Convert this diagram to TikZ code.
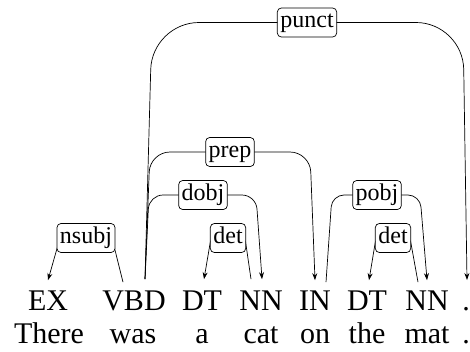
\documentclass[tikz,border=0pt]{standalone}
\usepackage{fontspec}
\setmainfont{Liberation Serif}
\usetikzlibrary{arrows.meta}
\begin{document}
\begin{tikzpicture}[x=1pt,y=-1pt,
  tagw/.style={anchor=base,inner sep=0pt,font=\fontsize{30}{30}\selectfont},
  lbl/.style={draw,fill=white,rounded corners=4pt,line width=0.7pt,
    inner xsep=3pt,inner ysep=4.5pt,text height=15pt,text depth=5pt,
    font=\fontsize{24}{24}\selectfont},
  dep/.style={line width=0.7pt,-{Stealth[length=7pt,width=5pt]}}]
\useasboundingbox (0,0) rectangle (470,351);

% part-of-speech row
\node[tagw] (t1) at (48,310) {EX};
\node[tagw] (t2) at (134,310) {VBD};
\node[tagw] (t3) at (202,310) {DT};
\node[tagw] (t4) at (261,310) {NN};
\node[tagw] (t5) at (315,310) {IN};
\node[tagw] (t6) at (367,310) {DT};
\node[tagw] (t7) at (427,310) {NN};
\node[tagw] (t8) at (466,310) {.};

% word row
\node[tagw] (w1) at (49,343) {There};
\node[tagw] (w2) at (133,343) {was};
\node[tagw] (w3) at (202,343) {a};
\node[tagw] (w4) at (261,343) {cat};
\node[tagw] (w5) at (315,343) {on};
\node[tagw] (w6) at (367,343) {the};
\node[tagw] (w7) at (427,343) {mat};
\node[tagw] (w8) at (466,343) {.};

% edge end points above the tags
\coordinate (vbdL) at ([xshift=-11pt,yshift=8pt]t2.north);
\coordinate (vbdR) at ([xshift=11pt,yshift=11pt]t2.north);
\coordinate (exT) at ([yshift=10pt]t1.north);
\coordinate (dt1T) at ([xshift=2pt,yshift=11pt]t3.north);
\coordinate (nn1S) at ([xshift=-10pt,yshift=11pt]t4.north);
\coordinate (nn1T) at ([xshift=1pt,yshift=11pt]t4.north);
\coordinate (inT) at ([yshift=10pt]t5.north);
\coordinate (inS) at ([xshift=11pt,yshift=8pt]t5.north);
\coordinate (dt2T) at ([xshift=2pt,yshift=10pt]t6.north);
\coordinate (nn2S) at ([xshift=-9pt,yshift=8pt]t7.north);
\coordinate (nn2T) at ([yshift=10pt]t7.north);
\coordinate (ptT) at ([xshift=1pt,yshift=30pt]t8.base);

% arcs
\draw[dep,rounded corners=47pt] (vbdR) -- (152,22.5) -- (463,22.5) -- (ptT);
\draw[dep,rounded corners=20pt] (vbdR) -- (150,152) -- (310,152) -- (inT);
\draw[dep,rounded corners=14pt] (vbdR) -- (149,195) -- (256,195) -- (nn1T);
\draw[dep,rounded corners=12pt] (inS) -- (332,195) -- (420,195) -- (nn2T);
\draw[dep,rounded corners=4pt] (vbdL) -- (112,238) -- (60,238) -- (exT);
\draw[dep,rounded corners=4pt] (nn1S) -- (245,238) -- (211,238) -- (dt1T);
\draw[dep,rounded corners=4pt] (nn2S) -- (410,238) -- (376,238) -- (dt2T);

% arc labels
\node[lbl] (lpunct) at (307,22.5) {punct};
\node[lbl] (lprep) at (230,152) {prep};
\node[lbl] (ldobj) at (203,195) {dobj};
\node[lbl] (lpobj) at (377,195) {pobj};
\node[lbl] (lnsubj) at (86,238) {nsubj};
\node[lbl] (ldet1) at (228,238) {det};
\node[lbl] (ldet2) at (393,238) {det};
\end{tikzpicture}
\end{document}
